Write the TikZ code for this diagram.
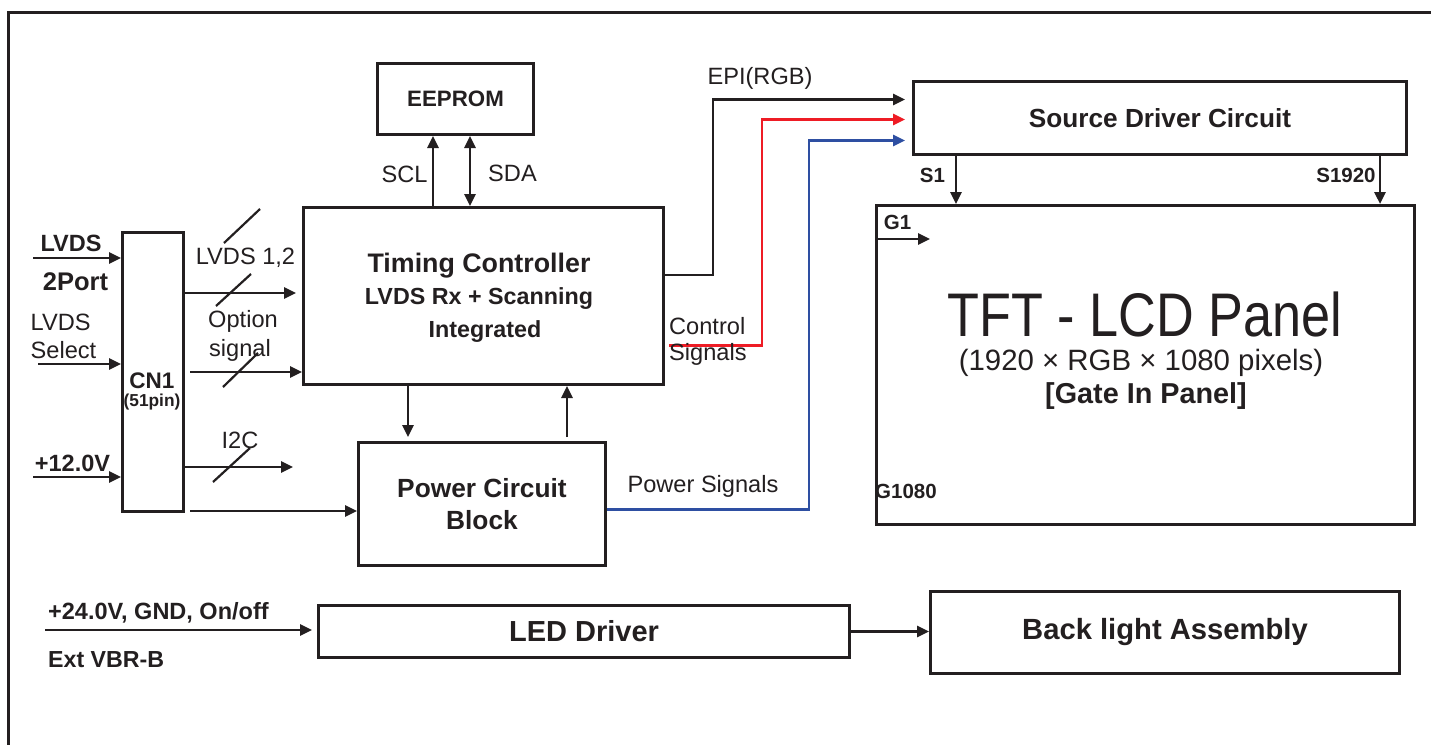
\documentclass[tikz,border=0pt]{standalone}
\usepackage{fontspec}
\setmainfont{Liberation Sans}
\usetikzlibrary{positioning,arrows.meta}
\definecolor{ink}{HTML}{231F20}
\definecolor{ctlred}{HTML}{EE1C25}
\definecolor{pwrblue}{HTML}{2E4FA2}
\newcommand{\fs}[1]{\fontsize{#1}{\dimexpr #1pt*6/5\relax}\selectfont}

\begin{document}
\begin{tikzpicture}[x=1pt, y=-1pt, ink,
    blk/.style={draw, line width=3pt, inner sep=0pt, anchor=north west, align=center, font=\bfseries},
    sig/.style={line width=2.6pt, -{Triangle[length=12pt,width=11pt]}},
    slash/.style={line width=2.2pt},
    lbl/.style={inner sep=0pt, align=left, font=\fs{23.6}},
    blbl/.style={inner sep=0pt, align=left, font=\bfseries\fs{23.5}},
    pin/.style={inner sep=0pt, font=\bfseries\fs{20.5}}
]
\useasboundingbox (0,0) rectangle (1431,744);
\clip (0,0) rectangle (1431,744);
\fill[white] (0,0) rectangle (1431,744);
\draw[line width=3pt] (8,760) |- (1440,12);

% blocks
\node[blk, minimum width=156, minimum height=71] (eeprom) at (376,62) {\fs{22.3}EEPROM};
\node[blk, minimum width=360, minimum height=177] (tcon) at (302,206) {};
\node[blk, minimum width=61, minimum height=279] (cn1) at (121,231) {};
\node[blk, minimum width=247, minimum height=123, font=\bfseries\fs{26.3}] (power) at (357,441) {Power Circuit\\[1pt]Block};
\node[blk, minimum width=493, minimum height=73, font=\bfseries\fs{26.2}] (source) at (912,80) {Source Driver Circuit};
\node[blk, minimum width=538, minimum height=319] (panel) at (875,204) {};
\node[blk, minimum width=531, minimum height=52, font=\bfseries\fs{29}] (led) at (317,604) {LED Driver};
\node[blk, minimum width=469, minimum height=82, font=\bfseries\fs{29.2}] (bla) at (929,590) {Back light Assembly};

% block texts
\node[inner sep=0pt, anchor=base, font=\bfseries\fs{26.8}] (tconA) at (479,272) {Timing Controller};
\node[inner sep=0pt, anchor=base, font=\bfseries\fs{23.3}] (tconB) at (479,304) {LVDS Rx + Scanning};
\node[inner sep=0pt, anchor=base, font=\bfseries\fs{23.3}] (tconC) at (485,337) {Integrated};
\node[inner sep=0pt, font=\bfseries\fs{22.5}] (cnA) at (152,381) {CN1};
\node[inner sep=0pt, font=\bfseries\fs{17.3}] (cnB) [below=5pt of cnA] {(51pin)};
\node[inner sep=0pt, anchor=base, font=\fs{52.2}] (tft) at (1145,336.7) {\scalebox{1}[1.18]{TFT - LCD Panel}};
\node[inner sep=0pt, anchor=base, font=\fs{29.4}] (res) at (1141,370) {(1920 × RGB × 1080 pixels)};
\node[inner sep=0pt, anchor=base, font=\bfseries\fs{28.8}] (gip) at (1146,403) {[Gate In Panel]};

% inputs of CN1
\coordinate (lvdsIn) at (33,258);
\coordinate (selIn) at (38,364);
\coordinate (vccIn) at (33,477);
\draw[sig] (lvdsIn) -- (lvdsIn -| cn1.west);
\draw[sig] (selIn) -- (selIn -| cn1.west);
\draw[sig] (vccIn) -- (vccIn -| cn1.west);
\node[blbl] (lvdsA) at (71,243) {LVDS};
\node[blbl, font=\bfseries\fs{25.5}] (lvdsB) at (75.5,282) {2Port};
\node[lbl, anchor=west] (selA) at (30.5,322) {LVDS};
\node[lbl, anchor=west] (selB) at (30.5,350) {Select};
\node[blbl] (vcc) at (72.5,463) {+12.0V};

% CN1 outputs
\coordinate (lvdsO) at (185,293);
\coordinate (optO) at (190,372);
\coordinate (i2cO) at (183,467);
\coordinate (i2cE) at (293,467);
\coordinate (pwrO) at (190,511);
\draw[sig, shorten >=6pt] (lvdsO) -- (lvdsO -| tcon.west);
\draw[sig] (optO) -- (optO -| tcon.west);
\draw[sig] (i2cO) -- (i2cE);
\draw[sig] (pwrO) -- (pwrO -| power.west);
\draw[slash] (224,243) -- (260,209);
\draw[slash] (216,306) -- (251,274);
\draw[slash] (223,387) -- (258,353);
\draw[slash] (213,482) -- (250,448);
\node[lbl] (lvds12) at (245.5,258) {LVDS 1,2};
\node[lbl] (optA) at (243,321) {Option};
\node[lbl] (optB) at (240,350) {signal};
\node[lbl] (i2c) at (240,440) {I2C};

% EEPROM bus
\draw[sig] ([xshift=131pt]tcon.north west) -- ([xshift=57pt]eeprom.south west);
\draw[sig, {Triangle[length=12pt,width=11pt]}-{Triangle[length=12pt,width=11pt]}] ([xshift=94pt]eeprom.south west) -- ([xshift=168pt]tcon.north west);
\node[lbl] (scl) at (404.5,174) {SCL};
\node[lbl] (sda) at (512.5,173) {SDA};

% timing controller <-> power
\draw[sig, shorten >=4pt] ([xshift=106pt]tcon.south west) -- ([xshift=51pt]power.north west);
\draw[sig, shorten <=4pt] ([xshift=210pt]power.north west) -- ([xshift=265pt]tcon.south west);

% signals to source driver
\draw[sig] ([yshift=21pt]tcon.east) -- ++(48,0) |- ([shift={(-7pt,18.5pt)}]source.west);
\draw[sig, ctlred] ([shift={(4pt,-49.5pt)}]tcon.east) -| (762,200) |- ([shift={(-7pt,-1.5pt)}]source.west);
\draw[sig, pwrblue] ([yshift=-5.5pt]power.east) -| (809,300) |- ([shift={(-7pt,-22.5pt)}]source.west);
\node[lbl] (epi) at (760,78) {EPI(RGB)};
\node[lbl, anchor=west] (ctlA) at (669,326) {Control};
\node[lbl, anchor=west] (ctlB) at (669,354) {Signals};
\node[lbl] (pwrsig) at (703,486) {Power Signals};

% source driver -> panel
\draw[sig] ([xshift=44pt]source.south west) -- ([xshift=81pt]panel.north west);
\draw[sig] ([xshift=468pt]source.south west) -- ([xshift=505pt]panel.north west);
\node[pin] (s1) at (932.5,175) {S1};
\node[pin] (s1920) at (1346,175) {S1920};
\coordinate (g1E) at (930,239);
\draw[sig] (g1E -| panel.west) -- (g1E);
\node[pin] (g1) at (897.5,222) {G1};
\node[pin] (g1080) at (906,491) {G1080};

% backlight
\coordinate (ledIn) at (45,630);
\draw[sig, shorten >=5pt] (ledIn) -- (ledIn -| led.west);
\draw[sig] (led.east) -- (led.east -| bla.west);
\node[blbl, anchor=west] (ledA) at (48,613) {+24.0V, GND, On/off};
\node[blbl, anchor=west, font=\bfseries\fs{23.2}] (ledB) at (48,660) {Ext VBR-B};
\end{tikzpicture}
\end{document}
